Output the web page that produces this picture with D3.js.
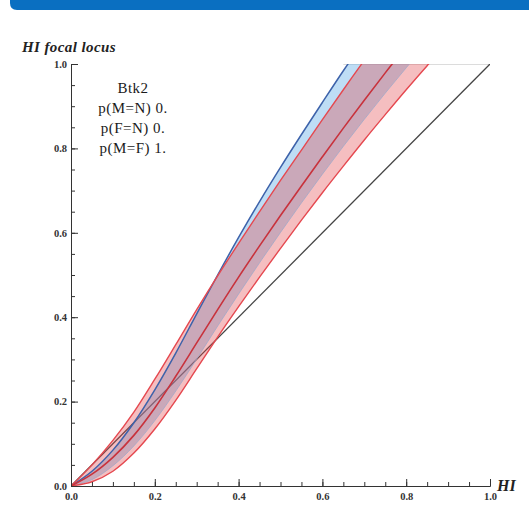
<!DOCTYPE html>
<html>
<head>
<meta charset="utf-8">
<script src="https://cdn.jsdelivr.net/npm/d3@7"></script>
<style>
  body { margin: 0; background: #fff; }
  svg { display: block; }
  .tick text { font-family: "Liberation Serif", serif; font-size: 10.5px; font-weight: bold; fill: #333; }
</style>
</head>
<body>
<svg id="chart" width="529" height="505"></svg>
<script>
// HI grid (x) and HI focal locus (y) for each curve
const hiGrid = [0, 0.05, 0.1, 0.15, 0.2, 0.25, 0.3, 0.35, 0.4, 0.45, 0.5, 0.55, 0.6, 0.65, 0.7, 0.75, 0.8, 0.85, 0.9];

// blue band (bounds)
const blueLow  = [0, 0.035, 0.085, 0.15, 0.228, 0.315, 0.408, 0.5, 0.589, 0.674, 0.755, 0.833, 0.909, 0.984, 1.056];
const blueHigh = [0, 0.015, 0.048, 0.095, 0.155, 0.225, 0.301, 0.379, 0.455, 0.529, 0.601, 0.671, 0.739, 0.805, 0.869, 0.931, 0.991, 1.049];

// red band (bounds + centre)
const redLow   = [0, 0.05, 0.108, 0.175, 0.253, 0.335, 0.418, 0.498, 0.575, 0.65, 0.724, 0.796, 0.868, 0.939, 1.009];
const redMid   = [0, 0.028, 0.068, 0.12, 0.185, 0.26, 0.339, 0.418, 0.495, 0.569, 0.641, 0.711, 0.78, 0.848, 0.914, 0.979, 1.042];
const redHigh  = [0, 0.01, 0.035, 0.078, 0.135, 0.203, 0.278, 0.353, 0.425, 0.495, 0.563, 0.63, 0.695, 0.758, 0.82, 0.88, 0.939, 0.996, 1.051];

const majorTicks = [0, 0.2, 0.4, 0.6, 0.8, 1.0];
const minorTicks = d3.range(0, 1.0001, 0.05);
const infoLines = ["Btk2", "p(M=N) 0.", "p(F=N) 0.", "p(M=F) 1."];

const svg = d3.select("#chart");
const w = +svg.attr("width");

// header band
svg.append("path")
    .attr("d", "M10,0 H" + w + " V10 H17 Q10,10 10,3 Z")
    .attr("fill", "#0a6fc1");

const x = d3.scaleLinear().domain([0, 1]).range([71, 490]);
const y = d3.scaleLinear().domain([0, 1]).range([486, 64]);

svg.append("clipPath").attr("id", "plot")
    .append("rect")
    .attr("x", x(0)).attr("y", y(1))
    .attr("width", x(1) - x(0)).attr("height", y(0) - y(1));

const pts = (vals) => vals.map((v, i) => [hiGrid[i], v]);
const line = d3.line()
    .x(d => x(d[0]))
    .y(d => y(d[1]))
    .curve(d3.curveCatmullRom);

// band between two curves: one forward, the other back
function band(a, b) {
    const p1 = line(pts(a));
    const p2 = line(pts(b).reverse());
    return p1 + "L" + p2.slice(1) + "Z";
}

const g = svg.append("g").attr("clip-path", "url(#plot)");

// faint top edge
g.append("line")
    .attr("x1", x(0.65)).attr("x2", x(1))
    .attr("y1", y(1) + 0.5).attr("y2", y(1) + 0.5)
    .attr("stroke", "#dcdcdc").attr("stroke-width", 1);

// diagonal
g.append("path")
    .attr("d", line([[0, 0], [1, 1]]))
    .attr("stroke", "#444").attr("stroke-width", 1.3).attr("fill", "none");

g.append("path")
    .attr("d", band(blueLow, blueHigh))
    .attr("fill", "rgb(100,175,230)").attr("fill-opacity", 0.42);

g.append("path")
    .attr("d", band(redLow, redHigh))
    .attr("fill", "rgb(225,70,75)").attr("fill-opacity", 0.35);

g.append("path")
    .attr("d", line(pts(blueLow)))
    .attr("stroke", "#3d62aa").attr("stroke-width", 1.5).attr("fill", "none");

g.append("path")
    .attr("d", line(pts(blueHigh)))
    .attr("stroke", "#a0a8c8").attr("stroke-width", 0.8).attr("fill", "none");

[redLow, redHigh].forEach(c => {
    g.append("path")
        .attr("d", line(pts(c)))
        .attr("stroke", "#e5484f").attr("stroke-width", 1.4).attr("fill", "none");
});

g.append("path")
    .attr("d", line(pts(redMid)))
    .attr("stroke", "#c8323c").attr("stroke-width", 1.6).attr("fill", "none");

// axes
const xAxis = d3.axisBottom(x).tickValues(majorTicks).tickFormat(d3.format(".1f"))
    .tickSizeInner(-7).tickSizeOuter(0).tickPadding(7);
const xMinor = d3.axisBottom(x).tickValues(minorTicks).tickFormat("")
    .tickSizeInner(-4).tickSizeOuter(0);
const yAxis = d3.axisLeft(y).tickValues(majorTicks).tickFormat(d3.format(".1f"))
    .tickSizeInner(-7).tickSizeOuter(0).tickPadding(4);
const yMinor = d3.axisLeft(y).tickValues(minorTicks).tickFormat("")
    .tickSizeInner(-4).tickSizeOuter(0);

svg.append("g").attr("transform", "translate(0," + y(0) + ")").call(xMinor);
svg.append("g").attr("transform", "translate(0," + y(0) + ")").attr("id", "x-axis").call(xAxis);
svg.append("g").attr("transform", "translate(" + x(0) + ",0)").call(yMinor);
svg.append("g").attr("transform", "translate(" + x(0) + ",0)").attr("id", "y-axis").call(yAxis);

svg.selectAll(".domain, .tick line").attr("stroke", "#333");

// axis titles
svg.append("text")
    .attr("x", 22).attr("y", 52)
    .attr("font-family", "Liberation Serif, serif")
    .attr("font-style", "italic").attr("font-weight", "bold")
    .attr("font-size", 15).attr("letter-spacing", 0.4).attr("fill", "#222")
    .text("HI focal locus");

svg.append("text")
    .attr("x", 497).attr("y", 491)
    .attr("font-family", "Liberation Serif, serif")
    .attr("font-style", "italic").attr("font-weight", "bold")
    .attr("font-size", 16).attr("fill", "#222")
    .text("HI");

// info block
svg.append("g").selectAll("text")
    .data(infoLines)
    .enter()
    .append("text")
    .attr("x", 133)
    .attr("y", (d, i) => 93 + i * 20)
    .attr("text-anchor", "middle")
    .attr("font-family", "Liberation Serif, serif")
    .attr("font-size", 15).attr("letter-spacing", 0.5).attr("fill", "#1a1a1a")
    .text(d => d);
</script>
</body>
</html>
